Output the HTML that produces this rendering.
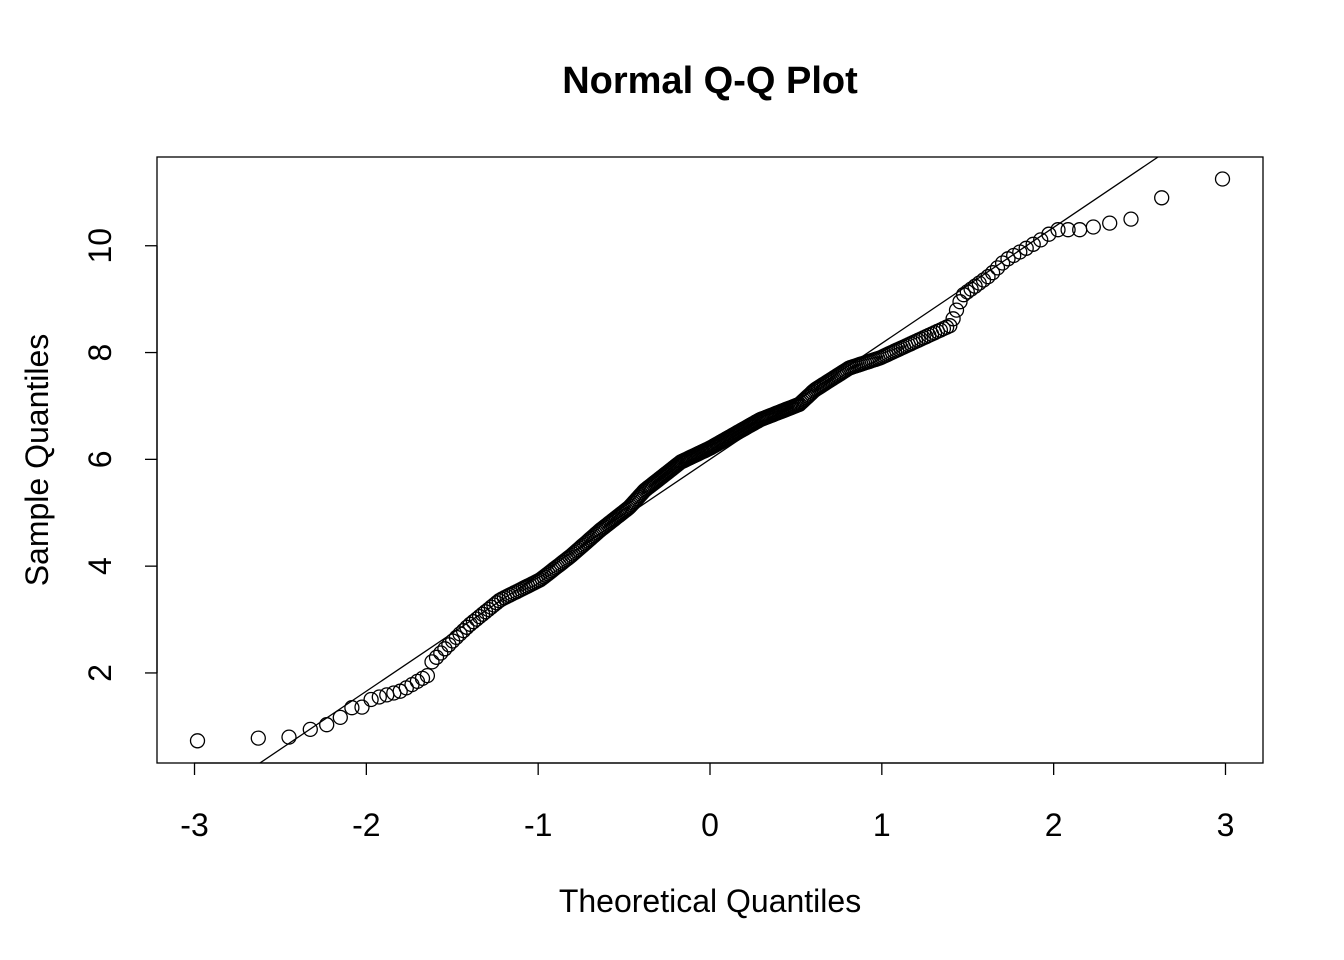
<!DOCTYPE html>
<html><head><meta charset="utf-8"><style>
html,body{margin:0;padding:0;background:#fff;}
svg{display:block;font-family:"Liberation Sans",Arial,sans-serif;}
</style></head><body>
<svg id="s" width="1344" height="960" viewBox="0 0 1344 960" xmlns="http://www.w3.org/2000/svg">
<rect width="1344" height="960" fill="#fff"/>
<text x="710" y="93" text-anchor="middle" font-size="38" font-weight="bold">Normal Q-Q Plot</text>
<rect x="157" y="157" width="1106" height="606" fill="none" stroke="#000" stroke-width="1.3"/>
<g id="xt" stroke="#000" stroke-width="1.3"></g>
<g id="yt" stroke="#000" stroke-width="1.3"></g>
<g font-size="32" text-anchor="middle" id="xl"></g>
<g font-size="32" text-anchor="middle" id="yl"></g>
<text x="710" y="912" text-anchor="middle" font-size="32">Theoretical Quantiles</text>
<text transform="translate(48,460) rotate(-90)" text-anchor="middle" font-size="32">Sample Quantiles</text>
<defs><clipPath id="c"><rect x="157" y="157" width="1106" height="606"/></clipPath></defs>
<line x1="230" y1="783.2" x2="1190" y2="135.4" stroke="#000" stroke-width="1.3" clip-path="url(#c)"/>
<g id="pts" fill="none" stroke="#000" stroke-width="1.3"></g>
</svg>
<script>
var NS="http://www.w3.org/2000/svg";
function el(p,t,a,txt){var e=document.createElementNS(NS,t);for(var k in a)e.setAttribute(k,a[k]);if(txt!=null)e.textContent=txt;document.getElementById(p).appendChild(e);}
function px(z){return 710+z*171.83;}
function py(y){return 779.75-y*53.4;}
el("xt","line",{x1:194,y1:763,x2:1225,y2:763});
for(var i=-3;i<=3;i++){var x=px(i);el("xt","line",{x1:x,y1:763,x2:x,y2:775});el("xl","text",{x:x,y:836},i);}
el("yt","line",{x1:157,y1:py(2),x2:157,y2:py(10)});
for(var v=2;v<=10;v+=2){var y=py(v);el("yt","line",{x1:157,y1:y,x2:145,y2:y});
 var t=document.createElementNS(NS,"text");t.setAttribute("transform","translate(111,"+y+") rotate(-90)");t.setAttribute("text-anchor","middle");t.textContent=v;document.getElementById("yl").appendChild(t);}
function qn(p){var a=[-39.6968302866538,220.946098424521,-275.928510446969,138.357751867269,-30.6647980661472,2.50662827745924],
b=[-54.4760987982241,161.585836858041,-155.698979859887,66.8013118877197,-13.2806815528857],
c=[-0.00778489400243029,-0.322396458041136,-2.40075827716184,-2.54973253934373,4.37466414146497,2.93816398269878],
d=[0.00778469570904146,0.32246712907004,2.445134137143,3.75440866190742],pl=0.02425,q,r;
if(p<pl){q=Math.sqrt(-2*Math.log(p));return(((((c[0]*q+c[1])*q+c[2])*q+c[3])*q+c[4])*q+c[5])/((((d[0]*q+d[1])*q+d[2])*q+d[3])*q+1);}
if(p>1-pl){q=Math.sqrt(-2*Math.log(1-p));return-(((((c[0]*q+c[1])*q+c[2])*q+c[3])*q+c[4])*q+c[5])/((((d[0]*q+d[1])*q+d[2])*q+d[3])*q+1);}
q=p-0.5;r=q*q;return(((((a[0]*r+a[1])*r+a[2])*r+a[3])*r+a[4])*r+a[5])*q/(((((b[0]*r+b[1])*r+b[2])*r+b[3])*r+b[4])*r+1);}
var K=[[-2.98,0.73],[-2.63,0.78],[-2.44,0.80],[-2.32,0.95],[-2.22,1.04],[-2.15,1.17],[-2.08,1.36],[-2.02,1.36],[-1.97,1.51],[-1.80,1.66],[-1.73,1.79],[-1.64,1.96],[-1.62,2.2],[-1.51,2.56],[-1.40,2.9],[-1.22,3.37],[-0.99,3.74],[-0.81,4.19],[-0.64,4.67],[-0.47,5.10],[-0.38,5.42],[-0.17,5.95],[0,6.21],[0.29,6.74],[0.52,7.03],[0.61,7.30],[0.81,7.71],[0.99,7.90],[1.34,8.42],[1.40,8.51],[1.43,8.76],[1.47,9.07],[1.63,9.45],[1.72,9.73],[1.92,10.1],[2.01,10.3],[2.15,10.3],[2.23,10.35],[2.32,10.42],[2.45,10.5],[2.63,10.9],[2.98,11.25]];
function f(z){if(z<=K[0][0])return K[0][1];for(var i=1;i<K.length;i++){if(z<=K[i][0]){var t=(z-K[i-1][0])/(K[i][0]-K[i-1][0]);return K[i-1][1]+t*(K[i][1]-K[i-1][1]);}}return K[K.length-1][1];}
var n=350;
for(var i=1;i<=n;i++){var z=qn((i-0.5)/n);el("pts","circle",{cx:px(z).toFixed(1),cy:py(f(z)).toFixed(1),r:7});}
</script>
</body></html>
